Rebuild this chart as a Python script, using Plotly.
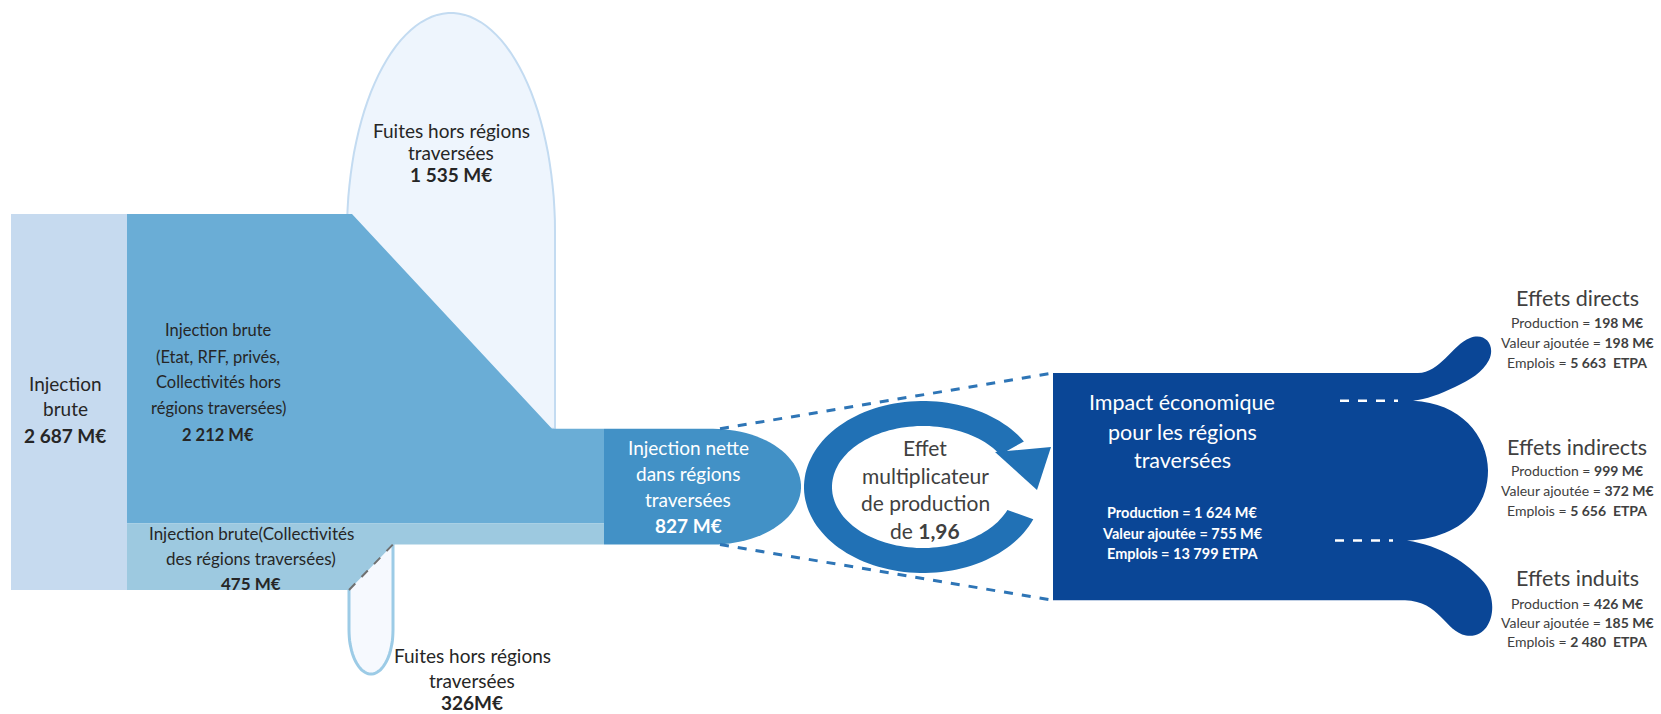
import numpy as np
import plotly.graph_objects as go

# ---------------- data (M€ / ETPA) ----------------
injection_brute_total = 2687
injection_hors_regions = 2212
injection_collectivites = 475
fuites_haut = 1535
fuites_bas = 326
injection_nette = 827
multiplicateur = "1,96"
impact_labels = ["Production", "Valeur ajoutée", "Emplois"]
impact_values = ["1 624 M€", "755 M€", "13 799 ETPA"]
impact_production = 1624
effets_names = ["Effets directs", "Effets indirects", "Effets induits"]
effets_production = [198, 999, 426]
effets_production_txt = ["198 M€", "999 M€", "426 M€"]
effets_va_txt = ["198 M€", "372 M€", "185 M€"]
effets_emplois_txt = ["5 663  ETPA", "5 656  ETPA", "2 480  ETPA"]

# ---------------- geometry (pixel space) ----------------
W, H = 1661, 714
k = 376 / injection_brute_total      # px per M€
TOP = 214
XL0, XL1 = 11, 127
DX0, DX1 = 352, 552
NET_X0, NET_RE, NET_RX = 604, 713, 88
LDX0, LDX1 = 349, 393
BOX_X0 = 1053

y_bottom = TOP + injection_brute_total * k
y_main_bot = TOP + injection_hors_regions * k
y_net_top = TOP + fuites_haut * k
y_net_bot = y_net_top + injection_nette * k
y_strip_bot = y_bottom - fuites_bas * k
y_c = (y_net_top + y_net_bot) / 2
box_top = y_c - impact_production * k / 2
box_bot = y_c + impact_production * k / 2
n1 = box_top + effets_production[0] * k
n2 = n1 + effets_production[1] * k

C_LEFT = "#c6daef"
C_MAIN = "#6aadd6"
C_STRIP = "#9dc9e0"
C_NET = "#4291c6"
C_ARROW = "#2171b5"
C_BOX = "#0a4696"
C_PALE = "#eef5fd"
C_TXT = "#262626"


def pts_path(pts, close=True):
    s = "M " + " L ".join(f"{x:.1f},{y:.1f}" for x, y in pts)
    return s + (" Z" if close else "")


shapes = []

# top balloon (fuites 1535)
t = np.linspace(np.pi, 0, 60)
bx, by, brx, bry = 451, 232, 104, 219
balloon = [(347, 262)] + [(bx + brx * np.cos(a), by - bry * np.sin(a)) for a in t] + \
          [(555, y_net_top), (540, y_net_top)]
shapes.append(dict(type="path", path=pts_path(balloon), fillcolor=C_PALE,
                   line=dict(color="#c3dbf1", width=2)))

# bottom balloon (fuites 326)
t2 = np.linspace(np.pi, 2 * np.pi, 40)
cbx, cby, crx, cry = 371, 630, 22, 44
bb = [(LDX0, 575), (LDX0, cby)] + [(cbx + crx * np.cos(a), cby - cry * np.sin(a)) for a in t2] + \
     [(LDX1, y_strip_bot - 2)]
shapes.append(dict(type="path", path=pts_path(bb), fillcolor="#f6f9fe",
                   line=dict(color="#9ccbe6", width=3)))

# left block
shapes.append(dict(type="rect", x0=XL0, x1=XL1, y0=TOP, y1=y_bottom, fillcolor=C_LEFT,
                   line=dict(width=0)))
# main block
main = [(XL1, TOP), (DX0, TOP), (DX1, y_net_top), (NET_X0, y_net_top), (NET_X0, y_main_bot),
        (XL1, y_main_bot)]
shapes.append(dict(type="path", path=pts_path(main), fillcolor=C_MAIN, line=dict(width=0)))
# strip + lower block
low = [(XL1, y_main_bot), (NET_X0, y_main_bot), (NET_X0, y_strip_bot), (LDX1, y_strip_bot),
       (LDX0, y_bottom), (XL1, y_bottom)]
shapes.append(dict(type="path", path=pts_path(low), fillcolor=C_STRIP, line=dict(width=0)))
shapes.append(dict(type="line", x0=LDX0, y0=y_bottom, x1=LDX1, y1=y_strip_bot,
                   line=dict(color="#707070", width=2, dash="dash")))

# net injection
t3 = np.linspace(-np.pi / 2, np.pi / 2, 50)
ry = (y_net_bot - y_net_top) / 2
net = [(NET_X0, y_net_top)] + [(NET_RE + NET_RX * np.cos(a), y_c + ry * np.sin(a)) for a in t3] + \
      [(NET_X0, y_net_bot)]
shapes.append(dict(type="path", path=pts_path(net), fillcolor=C_NET, line=dict(width=0)))

# dashed zoom lines
for ya, yb in [(y_net_top, box_top), (y_net_bot, box_bot)]:
    shapes.append(dict(type="line", x0=720, y0=ya, x1=BOX_X0, y1=yb,
                       line=dict(color="#2e75b6", width=3, dash="dash")))

# circular arrow
cx, cy = 923, 487
ro_x, ro_y, ri_x, ri_y = 119, 86, 91, 61
ta = np.radians(np.linspace(32, 338, 120))
outer = [(cx + ro_x * np.cos(a), cy - ro_y * np.sin(a)) for a in ta]
inner = [(cx + ri_x * np.cos(a), cy - ri_y * np.sin(a)) for a in ta[::-1]]
shapes.append(dict(type="path", path=pts_path(outer + inner), fillcolor=C_ARROW, line=dict(width=0)))
head = [(995, 452), (1051, 447), (1037, 490)]
shapes.append(dict(type="path", path=pts_path(head), fillcolor=C_ARROW, line=dict(width=0)))

# impact shape with three prongs
p = (f"M {BOX_X0},{box_top:.1f} L 1418,{box_top:.1f} "
     f"C 1440,{box_top:.1f} 1452,345 1470,338 "
     f"C 1485,332 1496,345 1489,360 "
     f"C 1483,372 1470,380 1455,387 "
     f"C 1440,394 1426,{n1 - 1:.1f} 1413,{n1:.1f} "
     f"C 1460,{n1 + 2:.1f} 1488,{n1 + 35:.1f} 1488,{(n1 + n2) / 2:.1f} "
     f"C 1488,{n2 - 32:.1f} 1460,{n2 - 2:.1f} 1407,{n2:.1f} "
     f"C 1440,{n2 + 5:.1f} 1468,{n2 + 22:.1f} 1484,{n2 + 42:.1f} "
     f"C 1500,{n2 + 62:.1f} 1492,{n2 + 99:.1f} 1466,{n2 + 95:.1f} "
     f"C 1445,{n2 + 91:.1f} 1440,{box_bot + 1:.1f} 1405,{box_bot:.1f} "
     f"L {BOX_X0},{box_bot:.1f} Z")
shapes.append(dict(type="path", path=p, fillcolor=C_BOX, line=dict(width=0)))
for yy, xa, xb in [(n1, 1340, 1398), (n2, 1335, 1393)]:
    shapes.append(dict(type="line", x0=xa, x1=xb, y0=yy, y1=yy,
                       line=dict(color="white", width=2.5, dash="dash")))

# ---------------- text ----------------
ann = []
FONT = "Lato"


def label(x, y, text, size, color=C_TXT):
    ann.append(dict(x=x, y=y, text=text, showarrow=False, xanchor="center", yanchor="middle",
                    font=dict(family=FONT, size=size, color=color)))


def block(x, ys, lines, size, color=C_TXT):
    for yy, tx in zip(ys, lines):
        label(x, yy, tx, size, color)


def fmt(v):
    return f"{v:,}".replace(",", " ")


block(65, [383, 408, 435], ["Injection", "brute", f"<b>{fmt(injection_brute_total)} M€</b>"], 19)
block(218, [330, 357, 382, 408, 435],
      ["Injection brute", "(Etat, RFF, privés,", "Collectivités hors", "régions traversées)",
       f"<b>{fmt(injection_hors_regions)} M€</b>"], 16.5)
block(251, [533, 558, 583], ["Injection brute(Collectivités", "des régions traversées)",
                             f"<b>{injection_collectivites} M€</b>"], 17)
block(451, [130, 152, 174], ["Fuites hors régions", "traversées",
                             f"<b>{fmt(fuites_haut)} M€</b>"], 19)
block(472, [655, 680, 702], ["Fuites hors régions", "traversées", f"<b>{fuites_bas}M€</b>"], 19)
block(688, [447, 473, 499, 525], ["Injection nette", "dans régions", "traversées",
                                  f"<b>{injection_nette} M€</b>"], 19, "white")
block(925, [447, 475, 502, 530], ["Effet", "multiplicateur", "de production",
                                  f"de <b>{multiplicateur}</b>"], 21, "#404040")
block(1182, [402, 432, 460], ["Impact économique", "pour les régions", "traversées"], 21.5, "white")
block(1182, [512, 533, 553], [f"<b>{l} = {v}</b>" for l, v in zip(impact_labels, impact_values)],
      14.5, "white")

right_y = [(298, [322, 342, 362]), (447, [470, 490, 510]), (578, [603, 622, 641])]
for i, (yt, ys) in enumerate(right_y):
    label(1577, yt, effets_names[i], 21.5, "#404040")
    block(1577, ys, [f"Production = <b>{effets_production_txt[i]}</b>",
                     f"Valeur ajoutée = <b>{effets_va_txt[i]}</b>",
                     f"Emplois = <b>{effets_emplois_txt[i]}</b>"], 14, "#404040")

fig = go.Figure(go.Scatter(x=[0], y=[0], mode="markers", marker=dict(opacity=0),
                           hoverinfo="skip", showlegend=False))
fig.update_layout(width=W, height=H, margin=dict(l=0, r=0, t=0, b=0, pad=0),
                  paper_bgcolor="white", plot_bgcolor="white", shapes=shapes, annotations=ann,
                  xaxis=dict(range=[0, W], visible=False, fixedrange=True),
                  yaxis=dict(range=[H, 0], visible=False, fixedrange=True),
                  showlegend=False)
fig.write_html("out.html", config={"displayModeBar": False})
